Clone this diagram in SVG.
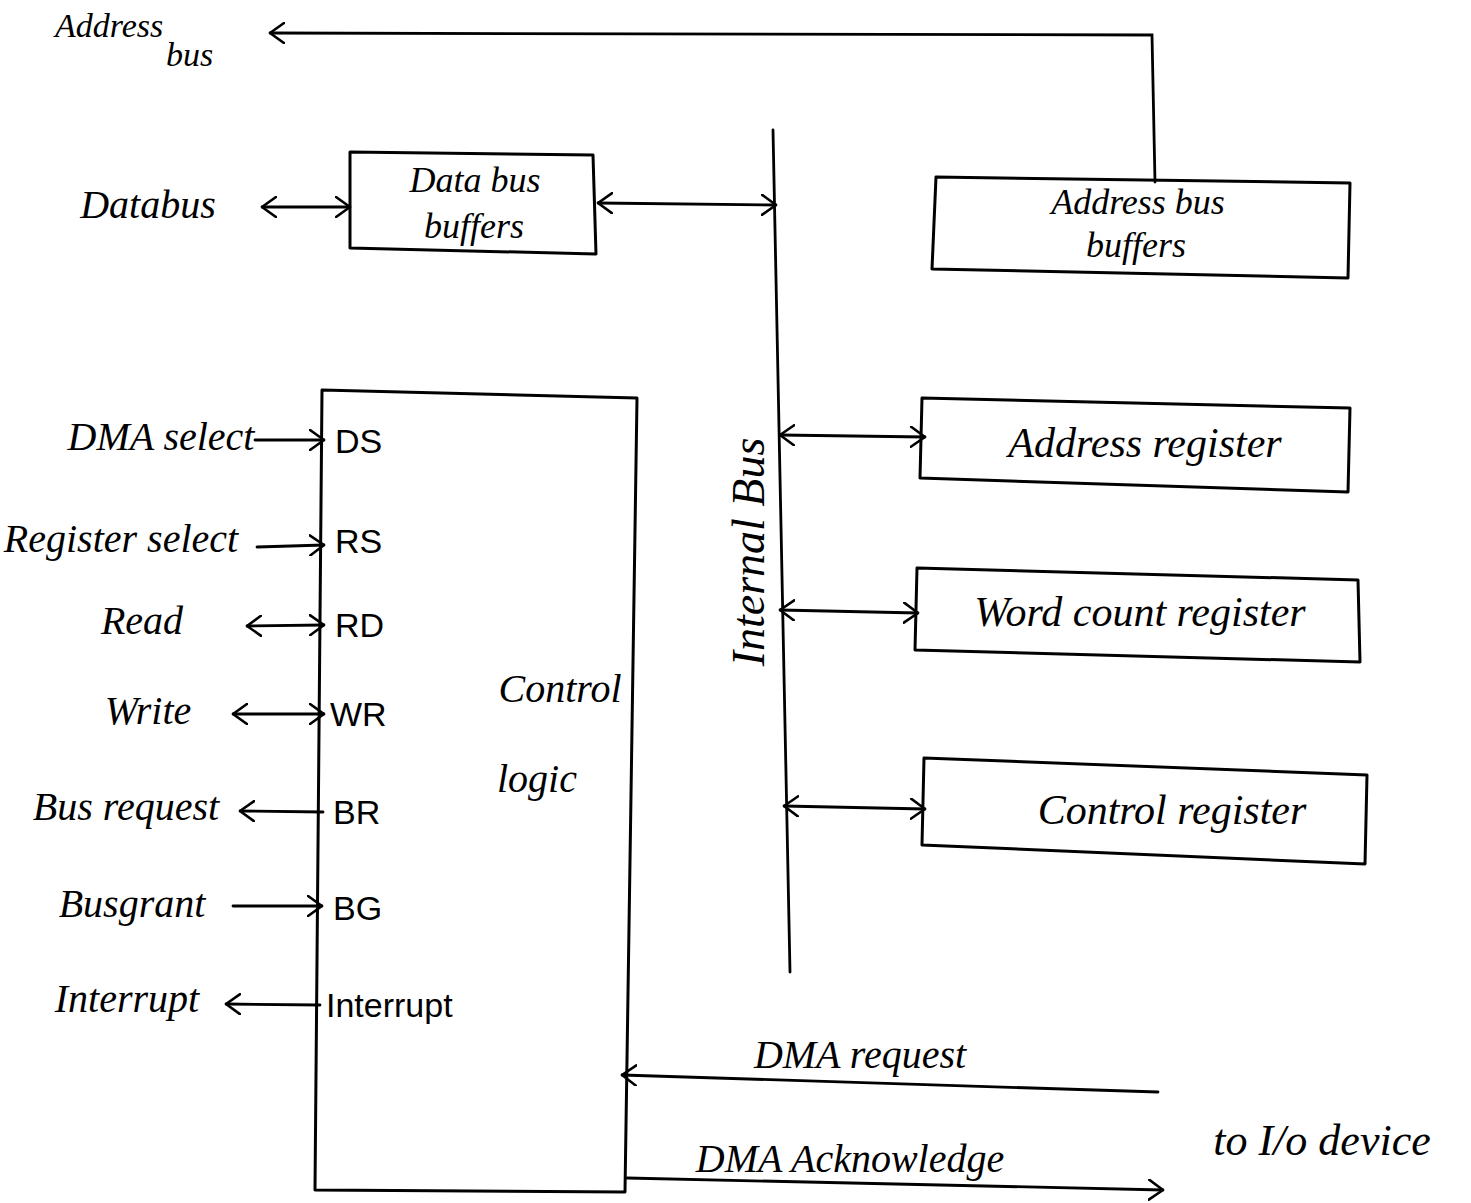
<svg xmlns="http://www.w3.org/2000/svg" width="1471" height="1203" viewBox="0 0 1471 1203">
<defs>
<marker id="ah" viewBox="0 0 16 22" refX="15" refY="11" markerWidth="16" markerHeight="22" markerUnits="userSpaceOnUse" orient="auto-start-reverse">
<path d="M1,1 L15,11 L1,21" fill="none" stroke="#000" stroke-width="2.6" stroke-linecap="round" stroke-linejoin="round"/>
</marker>
<style>
.box{fill:none;stroke:#000;stroke-width:3;stroke-linejoin:round}
.ln{fill:none;stroke:#000;stroke-width:2.8;stroke-linecap:round}
.a1{marker-end:url(#ah)}
.a2{marker-start:url(#ah);marker-end:url(#ah)}
text{font-family:"Liberation Serif","DejaVu Serif",serif;font-style:italic;font-size:40px;fill:#000;text-anchor:middle}
.pin{font-family:"Liberation Sans","DejaVu Sans",sans-serif;font-style:normal;font-size:34px;text-anchor:start}
.st{text-anchor:start}
.sm{font-size:34px}
.md{font-size:36px}
.lg{font-size:42px}
</style>
</defs>
<rect width="1471" height="1203" fill="#fff"/>

<g id="connectors">
<path class="ln a1" d="M1155,182 L1152,35 L270,33"/>
<path class="ln a2" d="M262,207 L350,207"/>
<path class="ln a2" d="M598,203 L776,205"/>
<path id="internal-bus" class="ln" d="M773,130 L790,972"/>
<path class="ln a2" d="M780,435 L925,437"/>
<path class="ln a2" d="M780,610 L918,613"/>
<path class="ln a2" d="M784,806 L925,809"/>
<path class="ln a1" d="M255,440 L324,440"/>
<path class="ln a1" d="M257,547 L324,545"/>
<path class="ln a2" d="M247,626 L324,625"/>
<path class="ln a2" d="M233,714 L324,714"/>
<path class="ln a1" d="M323,812 L240,811"/>
<path class="ln a1" d="M233,906 L322,906"/>
<path class="ln a1" d="M320,1005 L226,1004"/>
<path class="ln a1" d="M1158,1092 L622,1075"/>
<path class="ln a1" d="M627,1178 L1163,1190"/>
</g>

<g id="address-bus-label">
<text class="sm st" x="55" y="37">Address</text>
<text class="sm st" x="166" y="66">bus</text>
</g>
<g id="databus-label"><text x="148" y="218">Databus</text></g>

<g id="data-bus-buffers">
<path class="box" d="M350,152 L593,155 L596,254 L350,248 Z"/>
<text class="md" x="475" y="192">Data bus</text>
<text class="md" x="474" y="238">buffers</text>
</g>

<g id="address-bus-buffers">
<path class="box" d="M936,177 L1350,183 L1348,278 L932,269 Z"/>
<text class="md" x="1138" y="214">Address bus</text>
<text class="md" x="1136" y="257">buffers</text>
</g>

<g id="internal-bus-label">
<text transform="translate(764,552) rotate(-90)" style="font-size:46px">Internal Bus</text>
</g>

<g id="control-logic">
<path class="box" d="M322,390 L637,398 L625,1192 L315,1190 Z"/>
<text x="560" y="702">Control</text>
<text x="537" y="792">logic</text>
<text class="pin" x="335" y="453">DS</text>
<text class="pin" x="335" y="553">RS</text>
<text class="pin" x="335" y="637">RD</text>
<text class="pin" x="330" y="726">WR</text>
<text class="pin" x="333" y="824">BR</text>
<text class="pin" x="333" y="920">BG</text>
<text class="pin" x="326" y="1017">Interrupt</text>
</g>

<g id="left-signals">
<text x="161" y="450">DMA select</text>
<text x="121" y="552">Register select</text>
<text x="142" y="634">Read</text>
<text x="148" y="724">Write</text>
<text x="126" y="820">Bus request</text>
<text x="132" y="917">Busgrant</text>
<text x="127" y="1012">Interrupt</text>
</g>

<g id="address-register">
<path class="box" d="M922,398 L1350,408 L1348,492 L920,478 Z"/>
<text class="lg" x="1145" y="457">Address register</text>
</g>

<g id="word-count-register">
<path class="box" d="M917,568 L1358,580 L1360,662 L915,650 Z"/>
<text class="lg" x="1140" y="626">Word count register</text>
</g>

<g id="control-register">
<path class="box" d="M924,758 L1367,775 L1365,864 L922,845 Z"/>
<text class="lg" x="1172" y="824">Control register</text>
</g>

<g id="io-labels">
<text x="860" y="1068">DMA request</text>
<text x="850" y="1172">DMA Acknowledge</text>
<text x="1322" y="1155" style="font-size:44px">to I/o device</text>
</g>
</svg>
